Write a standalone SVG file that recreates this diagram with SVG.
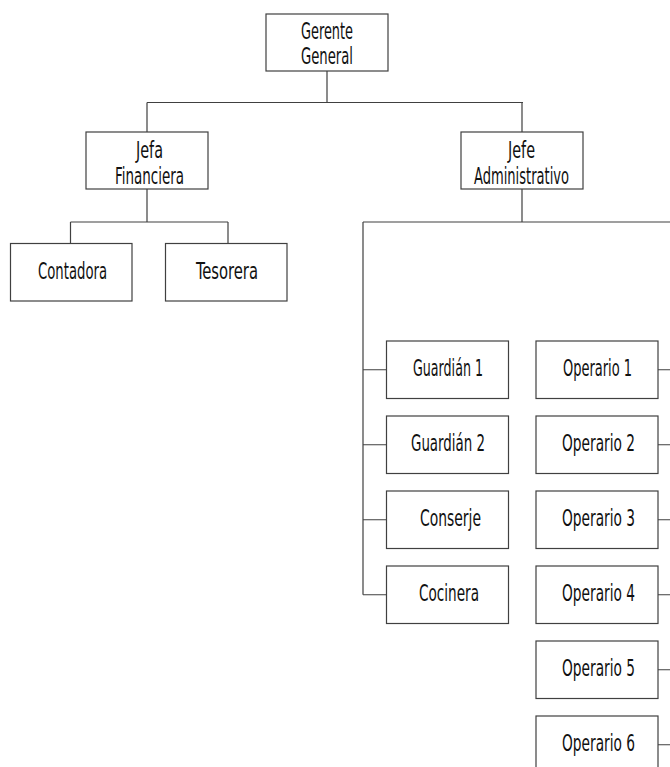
<svg xmlns="http://www.w3.org/2000/svg" width="670" height="767" viewBox="0 0 670 767">
  <style>
    .box { fill: #ffffff; stroke: #404040; stroke-width: 1.2; }
    .link { fill: none; stroke: #404040; stroke-width: 1.2; }
    text { font-family: "DejaVu Sans Condensed", "DejaVu Sans", sans-serif; font-size: 23.5px; fill: #111111; text-anchor: middle; }
  </style>
  <rect width="670" height="767" fill="#ffffff"/>

  <!-- connectors -->
  <g id="connectors" class="link">
    <path d="M327 71 V102.5 M147 102.5 H523 M147 102.5 V132 M522 102.5 V132"/>
    <path d="M147 189 V222 M70.5 222 H228 M70.5 222 V243.5 M228 222 V243.5"/>
    <path d="M522 189 V222 M363 222 H670 M363 222 V594.75"/>
    <path d="M363 369.75 H386.5 M363 444.75 H386.5 M363 519.75 H386.5 M363 594.75 H386.5"/>
    <path d="M658 369.75 H670 M658 444.75 H670 M658 519.75 H670 M658 594.75 H670 M658 669.75 H670 M658 744.75 H670"/>
  </g>

  <!-- nodes -->
  <g id="gerente-general">
    <rect class="box" x="266" y="14" width="122" height="57"/>
    <text x="327" y="38.5" textLength="52" lengthAdjust="spacingAndGlyphs">Gerente</text>
    <text x="327" y="64" textLength="52" lengthAdjust="spacingAndGlyphs">General</text>
  </g>
  <g id="jefa-financiera">
    <rect class="box" x="86" y="132" width="122" height="57"/>
    <text x="149.5" y="157.5" textLength="27" lengthAdjust="spacingAndGlyphs">Jefa</text>
    <text x="149.5" y="184" textLength="69" lengthAdjust="spacingAndGlyphs">Financiera</text>
  </g>
  <g id="jefe-administrativo">
    <rect class="box" x="461" y="132" width="122" height="57"/>
    <text x="521.5" y="157.5" textLength="27" lengthAdjust="spacingAndGlyphs">Jefe</text>
    <text x="521.5" y="184" textLength="95" lengthAdjust="spacingAndGlyphs">Administrativo</text>
  </g>
  <g id="contadora">
    <rect class="box" x="10.5" y="243.5" width="121.5" height="57.5"/>
    <text x="72.5" y="278.5" textLength="69" lengthAdjust="spacingAndGlyphs">Contadora</text>
  </g>
  <g id="tesorera">
    <rect class="box" x="165.5" y="243.5" width="121.5" height="57.5"/>
    <text x="227" y="278.5" textLength="62" lengthAdjust="spacingAndGlyphs">Tesorera</text>
  </g>

  <g id="guardian-1">
    <rect class="box" x="386.5" y="341" width="122" height="57.5"/>
    <text x="448" y="376" textLength="70" lengthAdjust="spacingAndGlyphs">Guardián 1</text>
  </g>
  <g id="guardian-2">
    <rect class="box" x="386.5" y="416" width="122" height="57.5"/>
    <text x="448" y="451" textLength="74" lengthAdjust="spacingAndGlyphs">Guardián 2</text>
  </g>
  <g id="conserje">
    <rect class="box" x="386.5" y="491" width="122" height="57.5"/>
    <text x="450.5" y="526" textLength="61" lengthAdjust="spacingAndGlyphs">Conserje</text>
  </g>
  <g id="cocinera">
    <rect class="box" x="386.5" y="566" width="122" height="57.5"/>
    <text x="449" y="601" textLength="60" lengthAdjust="spacingAndGlyphs">Cocinera</text>
  </g>

  <g id="operario-1">
    <rect class="box" x="536" y="341" width="122" height="57.5"/>
    <text x="597.5" y="376" textLength="69" lengthAdjust="spacingAndGlyphs">Operario 1</text>
  </g>
  <g id="operario-2">
    <rect class="box" x="536" y="416" width="122" height="57.5"/>
    <text x="598.5" y="451" textLength="73" lengthAdjust="spacingAndGlyphs">Operario 2</text>
  </g>
  <g id="operario-3">
    <rect class="box" x="536" y="491" width="122" height="57.5"/>
    <text x="598.5" y="526" textLength="73" lengthAdjust="spacingAndGlyphs">Operario 3</text>
  </g>
  <g id="operario-4">
    <rect class="box" x="536" y="566" width="122" height="57.5"/>
    <text x="598.5" y="601" textLength="73" lengthAdjust="spacingAndGlyphs">Operario 4</text>
  </g>
  <g id="operario-5">
    <rect class="box" x="536" y="641" width="122" height="57.5"/>
    <text x="598.5" y="676" textLength="73" lengthAdjust="spacingAndGlyphs">Operario 5</text>
  </g>
  <g id="operario-6">
    <rect class="box" x="536" y="716" width="122" height="57.5"/>
    <text x="598.5" y="751" textLength="73" lengthAdjust="spacingAndGlyphs">Operario 6</text>
  </g>
</svg>
